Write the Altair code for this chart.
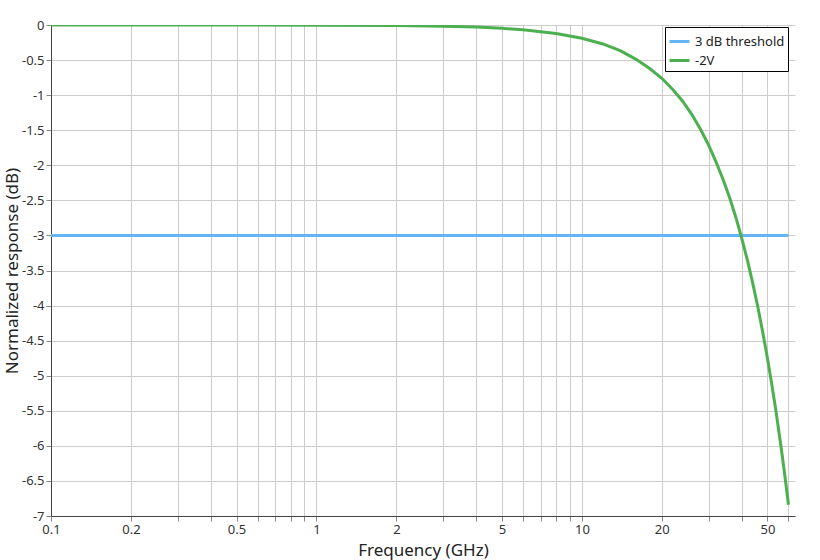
import altair as alt
import pandas as pd

freq = [0.1, 0.2, 0.5, 1, 2, 3, 4, 5, 6, 8, 10, 12, 14, 16, 18, 20, 22, 24, 26, 28, 30,
        32, 34, 36, 38, 40, 42, 44, 46, 48, 50, 52, 54, 56, 58, 60]
resp = [0.0, -0.0001, -0.0005, -0.0019, -0.0076, -0.017, -0.030, -0.048, -0.068, -0.12,
        -0.19, -0.27, -0.37, -0.49, -0.62, -0.76, -0.92, -1.09, -1.28, -1.49, -1.71,
        -1.95, -2.20, -2.46, -2.74, -3.04, -3.35, -3.68, -4.02, -4.38, -4.75, -5.14,
        -5.54, -5.96, -6.39, -6.84]
thr_freq = [0.1, 60]
thr_val = [-3, -3]
series_names = ["3 dB threshold", "-2V"]
series_colors = ["#64b5f6", "#4caf50"]
y_ticks = [0, -0.5, -1, -1.5, -2, -2.5, -3, -3.5, -4, -4.5, -5, -5.5, -6, -6.5, -7]

df = pd.concat([
    pd.DataFrame({"f": thr_freq, "v": thr_val, "s": series_names[0], "o": [0, 1]}),
    pd.DataFrame({"f": freq, "v": resp, "s": series_names[1], "o": list(range(len(freq)))}),
])

FONT = "Noto Sans"

chart = alt.Chart(df).mark_line(strokeWidth=3, clip=True).encode(
    x=alt.X("f:Q", title="Frequency (GHz)",
            scale=alt.Scale(type="log", domain=[0.1, 63.5], nice=False),
            axis=alt.Axis(labelFlush=False, labelOverlap=False, grid=True,
                          labelExpr="indexof([1,2,5], round(datum.value / pow(10, floor(log(datum.value)/LN10 + 1e-9)))) >= 0 ? format(datum.value, '~g') : ''")),
    y=alt.Y("v:Q", title="Normalized response (dB)",
            scale=alt.Scale(domain=[-7, 0], nice=False),
            axis=alt.Axis(values=y_ticks, labelExpr="toString(datum.value)")),
    color=alt.Color("s:N", scale=alt.Scale(domain=series_names, range=series_colors),
                    legend=alt.Legend(title=None, orient="none", legendX=614, legendY=2,
                                      symbolType="stroke", symbolStrokeWidth=3, symbolSize=400,
                                      strokeColor="black", fillColor="white", padding=3,
                                      labelFontSize=13, labelFont=FONT, labelColor="#222",
                                      rowPadding=0, cornerRadius=0)),
    order="o:Q",
).properties(
    width=744, height=491,
    autosize=alt.AutoSizeParams(type="none"),
    padding={"left": 51, "top": 25, "right": 25, "bottom": 44},
).configure_axis(
    labelFont=FONT, titleFont=FONT, labelFontSize=13, titleFontSize=17,
    titleFontWeight="normal", labelColor="#333", titleColor="#222",
    gridColor="#cccccc", gridWidth=1, domainColor="#444", tickColor="#888",
    tickSize=5,
).configure_axisX(titlePadding=6).configure_axisY(titlePadding=0).configure_view(stroke=None)

chart.save("out.html", embed_options={"renderer": "svg", "actions": False})
